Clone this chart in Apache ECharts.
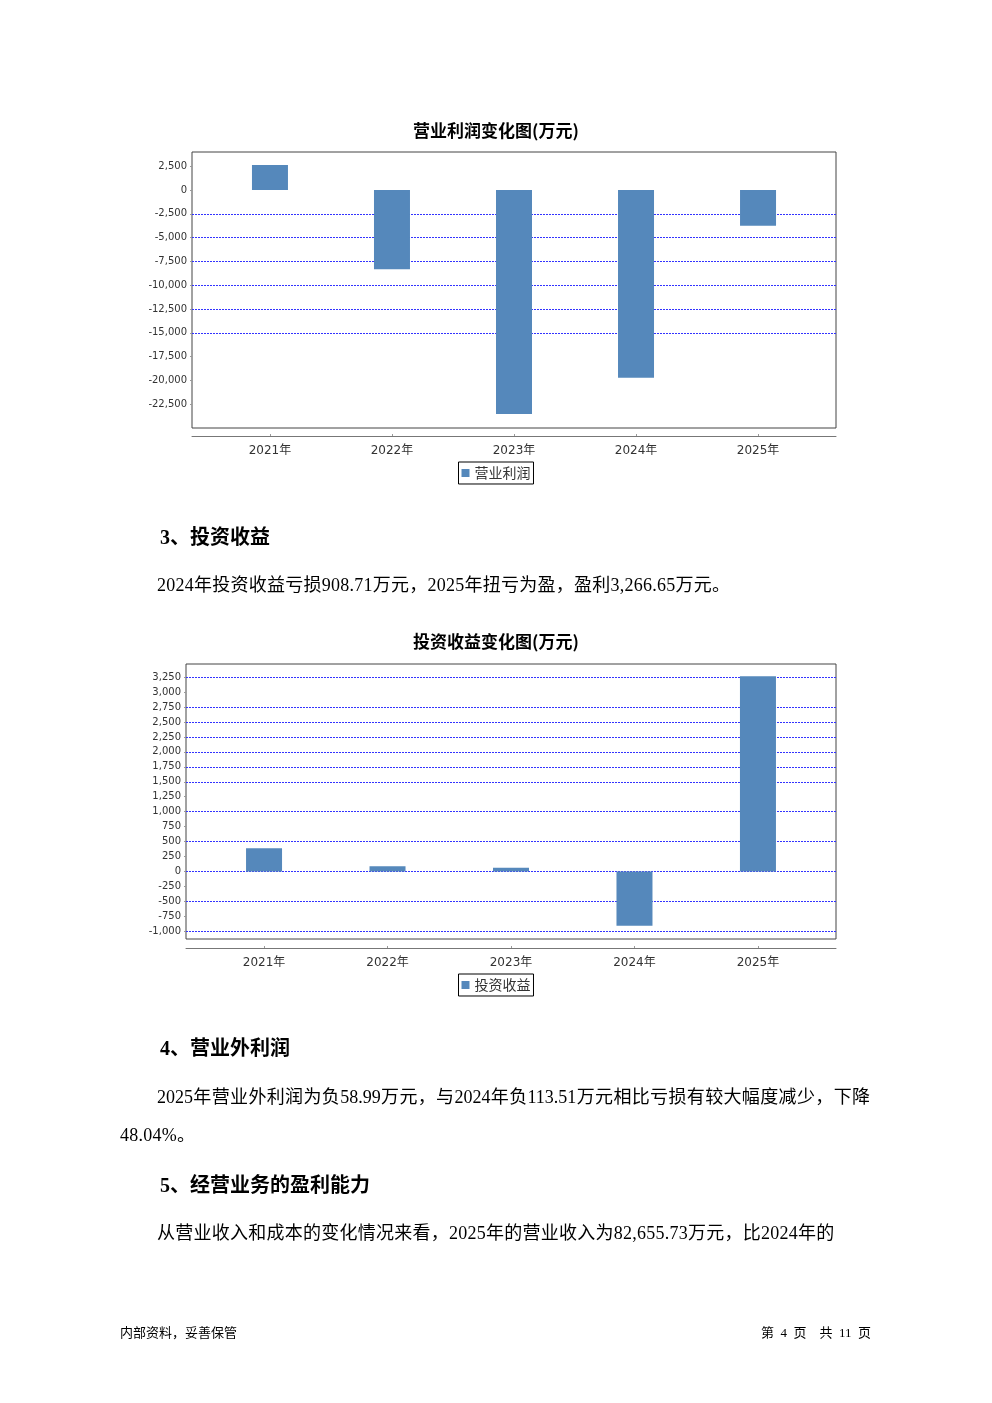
<!DOCTYPE html>
<html>
<head>
<meta charset="utf-8">
<script src="https://cdn.jsdelivr.net/npm/echarts@6/dist/echarts.min.js"></script>
<style>
  html, body { margin: 0; padding: 0; background: #fff; }
  #page { position: relative; width: 992px; height: 1403px; overflow: hidden; }
  #chart { position: absolute; left: 0; top: 0; width: 992px; height: 1403px; }
  .t { position: absolute; white-space: nowrap; color: #000;
       font-family: "Liberation Serif", "Noto Sans CJK SC", serif; }
  .h { font-size: 20px; line-height: 26px; font-weight: bold; }
  .p { font-size: 18px; line-height: 24px; letter-spacing: 0.25px; }
  .f { font-size: 13px; line-height: 18px; }
</style>
</head>
<body>
<div id="page">
  <div id="chart"></div>
  <div class="t h" style="left:160px; top:524px;">3、投资收益</div>
  <div class="t p" style="left:157px; top:573px;">2024年投资收益亏损908.71万元，2025年扭亏为盈，盈利3,266.65万元。</div>
  <div class="t h" style="left:160px; top:1035px;">4、营业外利润</div>
  <div class="t p" style="left:157px; top:1085px; width:713px; text-align:justify; text-align-last:justify; white-space:normal; letter-spacing:0;">2025年营业外利润为负58.99万元，与2024年负113.51万元相比亏损有较大幅度减少，下降</div>
  <div class="t p" style="left:120px; top:1123px;">48.04%。</div>
  <div class="t h" style="left:160px; top:1172px;">5、经营业务的盈利能力</div>
  <div class="t p" style="left:157px; top:1221px;">从营业收入和成本的变化情况来看，2025年的营业收入为82,655.73万元，比2024年的</div>
  <div class="t f" style="left:120px; top:1324px;">内部资料，妥善保管</div>
  <div class="t f" style="left:700px; top:1324px; width:171px; text-align:right;">第&nbsp;&nbsp;4&nbsp;&nbsp;页&nbsp;&nbsp;&nbsp;&nbsp;共&nbsp;&nbsp;11&nbsp;&nbsp;页</div>
</div>
<script>
// ---- data ----
const categories = ['2021年', '2022年', '2023年', '2024年', '2025年'];
const profitName = '营业利润';
const profitValues = [2630, -8330, -23530, -19720, -3750];
const profitTicks = [-22500, -20000, -17500, -15000, -12500, -10000, -7500, -5000, -2500, 0, 2500];
const profitGridLines = [-15000, -12500, -10000, -7500, -5000, -2500];

const investName = '投资收益';
const investValues = [390, 89, 60, -908.71, 3266.65];
const investTicks = [-1000, -750, -500, -250, 0, 250, 500, 750, 1000, 1250, 1500, 1750, 2000, 2250, 2500, 2750, 3000, 3250];
const investGridLines = [-1000, -500, 0, 500, 1000, 1500, 1750, 2000, 2250, 2500, 2750, 3250];

// ---- chart ----
const catIdx = categories.map((c, i) => i);
const barColor = '#5588bb';
const gridBlue = '#3333ff';
const axisFont = '"DejaVu Sans", "Noto Sans CJK SC", sans-serif';
const fmt = v => echarts.format.addCommas(v);

function xAxisCfg(gridIndex, min, max, offset, margin) {
  return {
    type: 'value', gridIndex, min, max, offset,
    axisLine: { show: true, onZero: false, lineStyle: { color: '#777', width: 1 } },
    axisTick: { show: true, inside: true, length: 2, customValues: catIdx, lineStyle: { color: '#999' } },
    axisLabel: { customValues: catIdx, formatter: v => categories[Math.round(v)], margin,
                 fontFamily: axisFont, fontSize: 12, color: '#333' },
    splitLine: { show: false }
  };
}
function yAxisCfg(gridIndex, min, max, ticks, gridLines) {
  return {
    type: 'value', gridIndex, min, max,
    axisLine: { show: false, onZero: false },
    axisTick: { show: true, length: 2, customValues: ticks, lineStyle: { color: '#999' } },
    axisLabel: { customValues: ticks, formatter: fmt, margin: 5,
                 fontFamily: axisFont, fontSize: 10, color: '#333' },
    splitLine: { show: true,
      lineStyle: { color: ticks.map(t => gridLines.indexOf(t) >= 0 ? gridBlue : 'rgba(0,0,0,0)'),
                   type: [2, 1], width: 1 } }
  };
}
const titleStyle = { fontFamily: '"Noto Sans CJK SC", sans-serif', fontWeight: 'bold', fontSize: 17, color: '#000' };
const legendCfg = (name, top) => ({
  data: [name], top, left: 'center', icon: 'rect', itemWidth: 8, itemHeight: 8,
  padding: [4, 3, 4, 3], borderColor: '#000', borderWidth: 1, backgroundColor: '#fff',
  textStyle: { fontFamily: '"Noto Sans CJK SC", sans-serif', fontSize: 14, color: '#333' }
});

const chart = echarts.init(document.getElementById('chart'), null, { renderer: 'canvas' });
chart.setOption({
  animation: false,
  backgroundColor: 'transparent',
  title: [
    { text: '营业利润变化图(万元)', left: 'center', top: 117, textStyle: titleStyle },
    { text: '投资收益变化图(万元)', left: 'center', top: 628, textStyle: titleStyle }
  ],
  legend: [legendCfg(profitName, 462), legendCfg(investName, 974)],
  grid: [
    { left: 192, top: 152, width: 644, height: 276, show: true, borderColor: '#444', borderWidth: 1, backgroundColor: '#fff' },
    { left: 186, top: 664, width: 650, height: 275, show: true, borderColor: '#444', borderWidth: 1, backgroundColor: '#fff' }
  ],
  xAxis: [
    xAxisCfg(0, -0.639, 4.639, 8, 9),
    xAxisCfg(1, -0.632, 4.632, 9, 9)
  ],
  yAxis: [
    yAxisCfg(0, -25000, 4000, profitTicks, profitGridLines),
    yAxisCfg(1, -1130, 3470, investTicks, investGridLines)
  ],
  series: [
    { name: profitName, type: 'bar', xAxisIndex: 0, yAxisIndex: 0, barWidth: 36, z: 3,
      itemStyle: { color: barColor }, data: profitValues.map((v, i) => [i, v]) },
    { name: investName, type: 'bar', xAxisIndex: 1, yAxisIndex: 1, barWidth: 36, z: 3,
      itemStyle: { color: barColor }, data: investValues.map((v, i) => [i, v]) }
  ]
});
</script>
</body>
</html>
